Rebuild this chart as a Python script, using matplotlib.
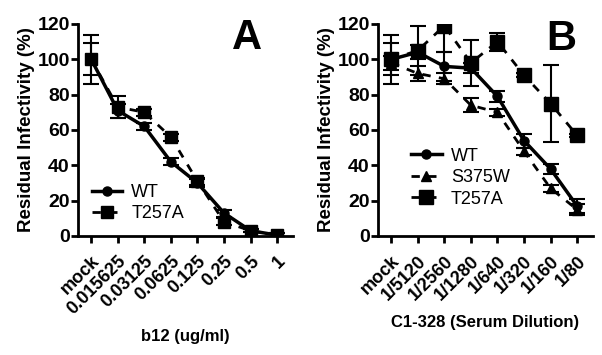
import matplotlib
matplotlib.use("Agg")
import matplotlib.pyplot as plt
import numpy as np

plt.rcParams['font.family'] = ['Liberation Sans', 'DejaVu Sans']

# Panel A data
a_labels = ["mock", "0.015625", "0.03125", "0.0625", "0.125", "0.25", "0.5", "1"]
a_wt = [100, 71, 62, 42, 30, 13, 3, 0.5]
a_wt_err = [9, 4, 2, 2, 2, 2, 1, 1]
a_t257a = [100, 73, 70, 56, 31, 8, 3, 0.5]
a_t257a_err = [14, 6, 2, 2, 2, 2, 1, 1]

# Panel B data
b_labels = ["mock", "1/5120", "1/2560", "1/1280", "1/640", "1/320", "1/160", "1/80"]
b_wt = [100, 104, 96, 95, 79, 54, 38, 17]
b_wt_err = [9, 4, 8, 3, 3, 4, 3, 4]
b_s375w = [98, 92, 89, 74, 70, 48, 27, 15]
b_s375w_err = [4, 4, 3, 4, 2, 2, 2, 3]
b_t257a = [100, 105, 119, 98, 110, 91, 75, 57]
b_t257a_err = [14, 14, 15, 13, 5, 1, 22, 1]

fig = plt.figure(figsize=(6.02, 3.55), dpi=100)
axA = fig.add_axes([78/602, 1-236/355, 215/602, 212/355])
axB = fig.add_axes([378/602, 1-236/355, 215/602, 212/355])

def style(ax, labels, xlabel):
    ax.set_xlim(-0.5, 7.6)
    ax.set_ylim(0, 120)
    ax.set_yticks([0, 20, 40, 60, 80, 100, 120])
    ax.set_xticks(np.arange(len(labels)))
    ax.set_xticklabels(labels, rotation=45, ha='right', rotation_mode='anchor',
                       fontsize=13, fontweight='bold')
    for t in ax.get_yticklabels():
        t.set_fontsize(14)
        t.set_fontweight('bold')
    for s in ['top', 'right']:
        ax.spines[s].set_visible(False)
    for s in ['left', 'bottom']:
        ax.spines[s].set_linewidth(2)
    ax.tick_params(axis='y', direction='out', length=5, width=2, pad=1)
    ax.tick_params(axis='x', direction='out', length=5, width=2, pad=7)
    ax.set_ylabel("Residual Infectivity (%)", fontsize=13.5, fontweight='bold', labelpad=2)
    ax.set_xlabel(xlabel, fontsize=12, fontweight='bold', labelpad=8)
    ax.patch.set_alpha(0)

x = np.arange(8)
ek = dict(ecolor='black', elinewidth=1.5, capsize=5.5, capthick=1.5)

t_a = axA.errorbar(x, a_t257a, yerr=a_t257a_err, color='black', marker='s', markersize=8.5,
                   linestyle=(0, (3, 3)), linewidth=2, zorder=3, **ek)
w_a = axA.errorbar(x, a_wt, yerr=a_wt_err, color='black', marker='o', markersize=6.5,
                   linestyle='-', linewidth=2.5, zorder=4, **ek)
axA.legend([w_a[0], t_a[0]], ["WT", "T257A"], loc='lower left', bbox_to_anchor=(0.03, 0.03),
           frameon=False, fontsize=13, handlelength=1.7, handletextpad=0.5,
           labelspacing=0.25, borderaxespad=0)
axA.text(5.86, 112, "A", fontsize=30, fontweight='bold', ha='center', va='center')
style(axA, a_labels, "b12 (ug/ml)")

t_b = axB.errorbar(x, b_t257a, yerr=b_t257a_err, color='black', marker='s', markersize=9.5,
                   linestyle=(0, (3, 3)), linewidth=2, zorder=3, **ek)
s_b = axB.errorbar(x, b_s375w, yerr=b_s375w_err, color='black', marker='^', markersize=6.5,
                   linestyle=(0, (3, 3)), linewidth=2, zorder=3, **ek)
w_b = axB.errorbar(x, b_wt, yerr=b_wt_err, color='black', marker='o', markersize=6.5,
                   linestyle='-', linewidth=2.5, zorder=4, **ek)
axB.legend([w_b[0], s_b[0], t_b[0]], ["WT", "S375W", "T257A"], loc='lower left',
           bbox_to_anchor=(0.12, 0.1), frameon=False, fontsize=13, handlelength=1.7,
           handletextpad=0.5, labelspacing=0.25, borderaxespad=0)
axB.text(6.4, 111.5, "B", fontsize=30, fontweight='bold', ha='center', va='center')
style(axB, b_labels, "C1-328 (Serum Dilution)")

fig.savefig("out.png", dpi=100)
